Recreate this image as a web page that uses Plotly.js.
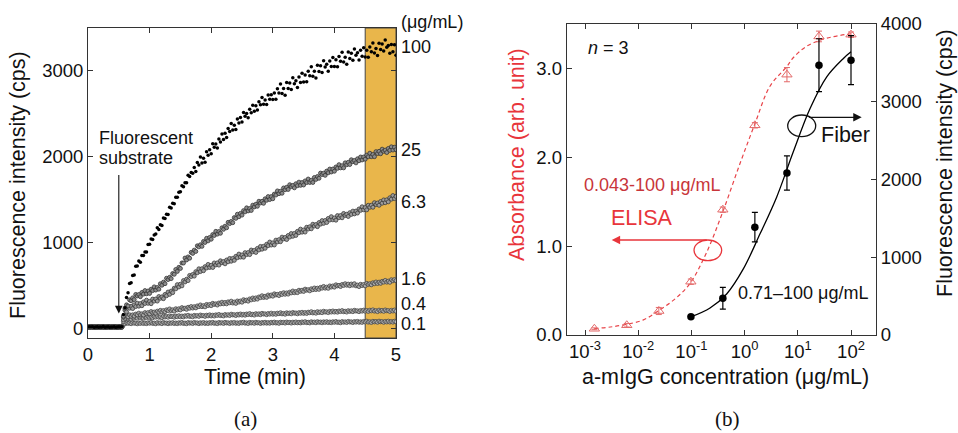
<!DOCTYPE html>
<html>
<head>
<meta charset="utf-8">
<script src="https://cdn.plot.ly/plotly-3.0.1.min.js"></script>
<style>html,body{margin:0;padding:0;background:#fff;}#chart{width:958px;height:433px;}</style>
</head>
<body>
<div id="chart"></div>
<script>
// ---------- Panel (a): time course ----------
const time = [0,0.025,0.05,0.075,0.1,0.125,0.15,0.175,0.2,0.225,0.25,0.275,0.3,0.325,0.35,0.375,0.4,0.425,0.45,0.475,
0.5,0.525,0.55,0.575,0.6,0.625,0.65,0.675,0.7,0.725,0.75,0.775,0.8,0.825,0.85,0.875,0.9,0.925,0.95,0.975,
1,1.025,1.05,1.075,1.1,1.125,1.15,1.175,1.2,1.225,1.25,1.275,1.3,1.325,1.35,1.375,1.4,1.425,1.45,1.475,
1.5,1.525,1.55,1.575,1.6,1.625,1.65,1.675,1.7,1.725,1.75,1.775,1.8,1.825,1.85,1.875,1.9,1.925,1.95,1.975,
2,2.025,2.05,2.075,2.1,2.125,2.15,2.175,2.2,2.225,2.25,2.275,2.3,2.325,2.35,2.375,2.4,2.425,2.45,2.475,
2.5,2.525,2.55,2.575,2.6,2.625,2.65,2.675,2.7,2.725,2.75,2.775,2.8,2.825,2.85,2.875,2.9,2.925,2.95,2.975,
3,3.025,3.05,3.075,3.1,3.125,3.15,3.175,3.2,3.225,3.25,3.275,3.3,3.325,3.35,3.375,3.4,3.425,3.45,3.475,
3.5,3.525,3.55,3.575,3.6,3.625,3.65,3.675,3.7,3.725,3.75,3.775,3.8,3.825,3.85,3.875,3.9,3.925,3.95,3.975,
4,4.025,4.05,4.075,4.1,4.125,4.15,4.175,4.2,4.225,4.25,4.275,4.3,4.325,4.35,4.375,4.4,4.425,4.45,4.475,
4.5,4.525,4.55,4.575,4.6,4.625,4.65,4.675,4.7,4.725,4.75,4.775,4.8,4.825,4.85,4.875,4.9,4.925,4.95,4.975,5];

const conc100 = [12,18,15,20,14,16,19,13,17,15,21,14,16,18,12,17,15,19,14,16,20,15,18,
160,240,358,414,520,530,613,620,721,726,782,768,847,847,886,888,974,978,
1039,1032,1085,1096,1170,1150,1203,1195,1281,1276,1326,1323,1407,1398,1455,1448,1524,1522,1582,1588,
1657,1645,1693,1693,1780,1765,1811,1803,1868,1822,1926,1898,1990,1920,1976,1930,2052,2012,2074,2028,
2144,2104,2142,2096,2200,2166,2258,2194,2268,2217,2321,2288,2380,2305,2361,2310,2432,2387,2449,2398,
2509,2464,2497,2446,2545,2506,2593,2524,2588,2537,2633,2598,2682,2605,2653,2600,2712,2662,2714,2658,
2736,2661,2785,2734,2840,2730,2788,2710,2856,2786,2852,2774,2912,2842,2876,2798,2920,2858,2964,2862,
2944,2866,2988,2934,3040,2930,2988,2910,3056,2986,3052,2974,3109,3037,3068,2988,3107,3043,3146,3042,
3121,3041,3160,3104,3207,3095,3150,3070,3211,3136,3197,3114,3247,3172,3201,3118,3232,3163,3261,3152,
3232,3151,3270,3214,3315,3200,3253,3170,3314,3241,3304,3224,3350,3267,3288,3198,3298,3213,3296,3172];

const conc25 = [16,13,19,15,17,12,18,16,14,20,15,17,13,19,16,14,18,15,17,13,19,16,14,
140,235,273,260,331,321,354,334,394,377,393,368,417,398,439,402,434,406,
455,439,482,445,475,455,518,501,537,519,582,567,593,578,637,628,684,662,709,696,
760,759,817,795,830,815,883,871,909,894,959,947,971,953,1010,998,1046,1017,1056,1036,
1090,1079,1127,1095,1125,1105,1168,1151,1187,1169,1232,1217,1243,1228,1287,1278,1326,1297,1336,1316,
1368,1354,1400,1365,1393,1370,1431,1411,1442,1419,1477,1457,1476,1453,1505,1488,1531,1497,1531,1506,
1560,1549,1597,1565,1593,1570,1631,1611,1639,1614,1669,1647,1661,1633,1680,1658,1699,1662,1694,1666,
1713,1694,1735,1695,1720,1695,1753,1731,1764,1744,1804,1787,1803,1778,1827,1808,1851,1817,1851,1826,
1875,1859,1902,1865,1890,1865,1923,1901,1929,1904,1959,1937,1951,1923,1970,1948,1991,1957,1991,1966,
2013,1994,2035,1995,2020,1995,2053,2031,2057,2029,2082,2057,2071,2043,2090,2068,2109,2072,2104,2076];

const conc6_3 = [14,17,15,18,13,16,15,19,14,17,16,13,18,15,17,14,19,16,13,17,15,18,16,
130,211,192,250,234,256,230,274,254,292,258,288,263,307,289,328,291,313,
287,340,317,341,317,370,349,366,345,394,379,422,395,433,415,467,459,508,481,513,
494,555,539,571,555,615,602,626,607,659,646,692,660,693,670,717,701,743,708,733,
707,760,737,761,735,785,762,776,750,794,774,812,780,813,790,837,821,863,828,853,
827,880,857,881,857,910,889,906,882,929,911,952,920,953,930,977,961,1003,968,993,
969,1025,1004,1031,1007,1060,1039,1056,1032,1079,1061,1102,1070,1103,1080,1127,1111,1153,1118,1143,
1119,1175,1154,1181,1157,1210,1189,1206,1182,1229,1211,1252,1220,1253,1230,1277,1259,1298,1261,1283,
1257,1310,1287,1311,1285,1335,1312,1326,1300,1344,1324,1362,1330,1363,1340,1387,1371,1413,1378,1403,
1377,1430,1407,1431,1407,1460,1439,1456,1430,1474,1454,1492,1460,1493,1470,1517,1501,1543,1508,1533];

const conc1_6 = [15,13,17,16,14,18,15,12,17,16,14,19,15,13,16,18,14,17,15,13,18,16,15,
100,116,143,134,157,141,157,143,166,157,177,157,169,155,183,170,183,169,
196,183,190,176,200,189,209,191,207,193,216,207,226,204,216,200,228,215,228,214,
241,228,235,221,245,234,254,236,252,238,261,252,272,252,264,250,278,265,278,264,
291,278,285,271,295,284,304,286,301,285,308,297,316,294,306,290,318,305,318,304,
333,320,329,316,342,331,353,336,354,340,365,357,379,359,373,360,388,375,388,374,
401,388,395,381,405,394,414,396,412,398,421,412,434,414,428,415,443,430,443,429,
456,443,450,436,460,449,469,451,467,453,476,467,487,467,479,465,493,480,493,479,
506,493,500,486,510,499,519,501,514,495,515,502,519,494,503,485,512,497,510,494,
523,510,519,506,530,519,539,521,537,523,546,537,557,537,549,535,565,552,567,554];

const conc0_4 = [16,14,18,15,13,17,16,19,14,15,17,13,16,18,15,14,17,16,19,14,15,17,16,
80,108,122,109,117,107,126,118,127,118,135,125,129,118,133,125,137,124,
133,123,137,130,142,128,134,124,141,132,139,129,145,136,139,129,143,135,147,134,
143,133,147,140,152,138,144,134,151,142,149,139,155,146,149,139,153,145,157,144,
153,143,157,150,162,148,154,144,161,152,159,149,165,156,159,149,163,155,167,154,
163,153,167,160,172,158,164,154,171,162,169,159,175,166,169,159,173,165,177,164,
173,163,177,170,182,168,174,164,181,172,179,169,185,176,179,169,183,175,187,174,
184,173,188,181,194,179,186,176,194,184,192,182,199,189,193,183,198,189,202,189,
198,188,202,195,207,193,199,189,206,197,204,194,210,201,204,194,208,200,212,199,
208,197,211,203,215,200,206,195,212,202,209,198,214,204,207,196,210,201,213,199];

const conc0_1 = [15,17,14,16,19,13,15,18,16,14,17,15,13,18,16,15,14,17,19,15,16,13,17,
45,52,66,58,63,54,67,59,62,53,64,57,67,56,63,55,66,59,
69,57,62,53,67,59,64,55,68,60,63,54,65,58,67,56,63,55,66,59,
69,57,62,54,68,60,65,56,69,61,64,55,66,59,68,57,64,56,67,60,
70,58,63,55,69,61,66,57,70,62,65,56,67,60,69,58,65,57,68,62,
72,60,65,56,70,62,67,58,71,63,66,57,68,61,71,60,67,59,70,63,
73,62,67,58,72,65,70,61,74,66,70,61,72,65,75,64,71,63,75,68,
78,66,71,63,77,69,74,65,78,70,74,65,76,69,78,67,74,66,77,70,
80,69,74,65,79,71,76,68,81,73,76,67,79,72,81,70,77,69,81,74,
84,72,77,68,82,75,80,71,84,76,79,70,81,74,84,73,80,72,83,76];

const seriesLabels = ["(\u03bcg/mL)", "100", "25", "6.3", "1.6", "0.4", "0.1"];

// ---------- Panel (b): dose response ----------
const elisaConc = [0.0015, 0.0061, 0.0244, 0.0977, 0.39, 1.56, 6.25, 25, 100];
const elisaAbs  = [0.07, 0.11, 0.27, 0.60, 1.41, 2.36, 2.93, 3.36, 3.38];
const elisaErr  = [0.01, 0.02, 0.04, 0.03, 0.03, 0.03, 0.08, 0.06, 0.03];
const elisaFitX = [0.0015,0.003,0.006,0.0125,0.025,0.05,0.094,0.19,0.38,0.82,1.57,3.0,6.2,8.2,14.7,35,100];
const elisaFitY = [0.072,0.09,0.12,0.17,0.28,0.41,0.58,0.92,1.37,1.93,2.38,2.80,3.02,3.12,3.25,3.34,3.39];

const fiberConc = [0.098, 0.39, 1.56, 6.25, 25, 100];
const fiberCps  = [236, 472, 1387, 2083, 3470, 3535];
const fiberErr  = [0, 140, 190, 220, 340, 315];
const fiberFitX = [0.1,0.224,0.46,0.946,1.95,4.0,8.2,17,35,72,100];
const fiberFitY = [236,348,528,850,1301,1773,2353,2912,3320,3557,3642];

const logTicks = [0.001, 0.01, 0.1, 1, 10, 100];
const logTickText = ["10<sup>-3</sup>","10<sup>-2</sup>","10<sup>-1</sup>","10<sup>0</sup>","10<sup>1</sup>","10<sup>2</sup>"];

const FONT = "Liberation Sans, Arial, sans-serif";
const RED = "#e8353b";
const W = 958, H = 433;
const px = v => v / W;
const py = v => 1 - v / H;

function dots(y, fill, line, size) {
  return {x: time, y: y, type: "scatter", mode: "markers", xaxis: "x", yaxis: "y",
    marker: {size: size, color: fill, line: {color: line, width: 0.8}}, hoverinfo: "skip"};
}

const traces = [
  dots(conc0_1, "#b4b4b4", "#484848", 4),
  dots(conc0_4, "#b4b4b4", "#484848", 4),
  dots(conc1_6, "#aaaaaa", "#444", 4),
  dots(conc6_3, "#9c9c9c", "#3a3a3a", 4),
  dots(conc25, "#8c8c8c", "#333", 4),
  {x: time, y: conc100, type: "scatter", mode: "markers", xaxis: "x", yaxis: "y",
    marker: {size: 3.5, color: "#000"}},
  {x: elisaFitX, y: elisaFitY, type: "scatter", mode: "lines", xaxis: "x2", yaxis: "y2",
    line: {color: "#e8454a", width: 1.2, dash: "4px,3px", shape: "spline"}},
  {x: elisaConc, y: elisaAbs, type: "scatter", mode: "markers", xaxis: "x2", yaxis: "y2",
    marker: {symbol: "triangle-up-open", size: 9, color: "#e46a6a", line: {width: 1}},
    error_y: {type: "data", array: elisaErr, visible: true, color: "#e46a6a", thickness: 1, width: 3}},
  {x: fiberFitX, y: fiberFitY, type: "scatter", mode: "lines", xaxis: "x2", yaxis: "y3",
    line: {color: "#000", width: 1.3, shape: "spline"}},
  {x: fiberConc, y: fiberCps, type: "scatter", mode: "markers", xaxis: "x2", yaxis: "y3",
    marker: {symbol: "circle", size: 7.5, color: "#000"},
    error_y: {type: "data", array: fiberErr, visible: true, color: "#000", thickness: 1.2, width: 3}}
];

const axBase = {showgrid: false, zeroline: false, showline: true, linecolor: "#333", linewidth: 1,
  ticks: "inside", ticklen: 5, tickcolor: "#333", tickwidth: 1,
  tickfont: {family: FONT, size: 18.5, color: "#111"}};

function ann(text, x, y, opts) {
  return Object.assign({text: text, x: x, y: y, xref: "paper", yref: "paper", showarrow: false,
    xanchor: "center", yanchor: "middle", borderpad: 0,
    font: {family: FONT, size: 18, color: "#111"}}, opts || {});
}

const labelY = [21.7, 46.7, 150, 201.7, 279.3, 304, 323.5];

const annotations = [
  ann("Fluorescence intensity (cps)", px(18), py(185), {textangle: -90, font: {family: FONT, size: 21.5, color: "#111"}}),
  ann("Time (min)", px(255), py(377), {font: {family: FONT, size: 21.5, color: "#111"}}),
  ann("(a)", px(245), py(419), {font: {family: "Liberation Serif, Times New Roman, serif", size: 21, color: "#111"}}),
  ann("Fluorescent", px(98), py(138), {xanchor: "left"}),
  ann("substrate", px(98), py(158), {xanchor: "left"}),
  {x: 0.5, y: 174, xref: "x", yref: "y", text: "", showarrow: true, ax: 0, ay: -140,
    arrowhead: 2, arrowsize: 1.4, arrowwidth: 1.1, arrowcolor: "#111"},
  ann("Absorbance (arb. unit)", px(517), py(155), {textangle: -90, font: {family: FONT, size: 21.5, color: RED}}),
  ann("Fluorescence intensity (cps)", px(945), py(163), {textangle: -90, font: {family: FONT, size: 21.5, color: "#111"}}),
  ann("a-mIgG concentration (\u03bcg/mL)", px(725), py(377), {font: {family: FONT, size: 21.5, color: "#111"}}),
  ann("(b)", px(727), py(419), {font: {family: "Liberation Serif, Times New Roman, serif", size: 21, color: "#111"}}),
  ann("<i>n</i> = 3", px(586.7), py(48), {xanchor: "left"}),
  ann("0.043-100 \u03bcg/mL", px(583), py(185), {xanchor: "left", font: {family: FONT, size: 18, color: "#c8353a"}}),
  ann("ELISA", px(610), py(218), {xanchor: "left", font: {family: FONT, size: 21.5, color: RED}}),
  ann("Fiber", px(820), py(135), {xanchor: "left", font: {family: FONT, size: 21.5, color: "#111"}}),
  ann("0.71\u2013100 \u03bcg/mL", px(737), py(293), {xanchor: "left"}),
  {x: px(611.7), y: py(240), xref: "paper", yref: "paper", text: "", showarrow: true, ax: 96.6, ay: 0,
    arrowhead: 2, arrowsize: 1.3, arrowwidth: 1.3, arrowcolor: RED},
  {x: px(861.7), y: py(117.3), xref: "paper", yref: "paper", text: "", showarrow: true, ax: -54, ay: 0,
    arrowhead: 2, arrowsize: 1.3, arrowwidth: 1.3, arrowcolor: "#111"}
];
seriesLabels.forEach((s, i) => annotations.push(ann(s, px(400), py(labelY[i]), {xanchor: "left"})));

const layout = {
  width: W, height: H,
  margin: {l: 0, r: 0, t: 0, b: 0},
  paper_bgcolor: "#fff", plot_bgcolor: "rgba(0,0,0,0)",
  showlegend: false,
  font: {family: FONT, color: "#111"},
  xaxis: Object.assign({}, axBase, {domain: [px(88), px(396)], range: [0, 5], tickvals: [0,1,2,3,4,5],
    mirror: "ticks", anchor: "y"}),
  yaxis: Object.assign({}, axBase, {domain: [py(338), py(28)], range: [-112, 3490], tickvals: [0,1000,2000,3000],
    mirror: "ticks", anchor: "x"}),
  xaxis2: Object.assign({}, axBase, {domain: [px(566.7), px(876)], type: "log", range: [-3.344, 2.47],
    tickvals: logTicks, ticktext: logTickText, mirror: "ticks", anchor: "y2"}),
  yaxis2: Object.assign({}, axBase, {domain: [py(335), py(24)], range: [0, 3.5], tickvals: [0,1,2,3],
    ticktext: ["0.0","1.0","2.0","3.0"], anchor: "x2"}),
  yaxis3: Object.assign({}, axBase, {overlaying: "y2", side: "right", range: [0, 4000],
    tickvals: [0,1000,2000,3000,4000], anchor: "x2"}),
  shapes: [
    {type: "rect", xref: "x", yref: "y domain", x0: 4.5, x1: 5, y0: 0, y1: 1,
      fillcolor: "rgb(233,182,75)", line: {color: "#444", width: 1}, layer: "below"},
    {type: "circle", xref: "paper", yref: "paper", x0: px(694), x1: px(721.7), y0: py(260.7), y1: py(240),
      line: {color: RED, width: 1.3}},
    {type: "circle", xref: "paper", yref: "paper", x0: px(787.7), x1: px(815.7), y0: py(136.7), y1: py(115),
      line: {color: "#111", width: 1.3}}
  ],
  annotations: annotations
};

Plotly.newPlot("chart", traces, layout, {displayModeBar: false, staticPlot: true});
</script>
</body>
</html>
